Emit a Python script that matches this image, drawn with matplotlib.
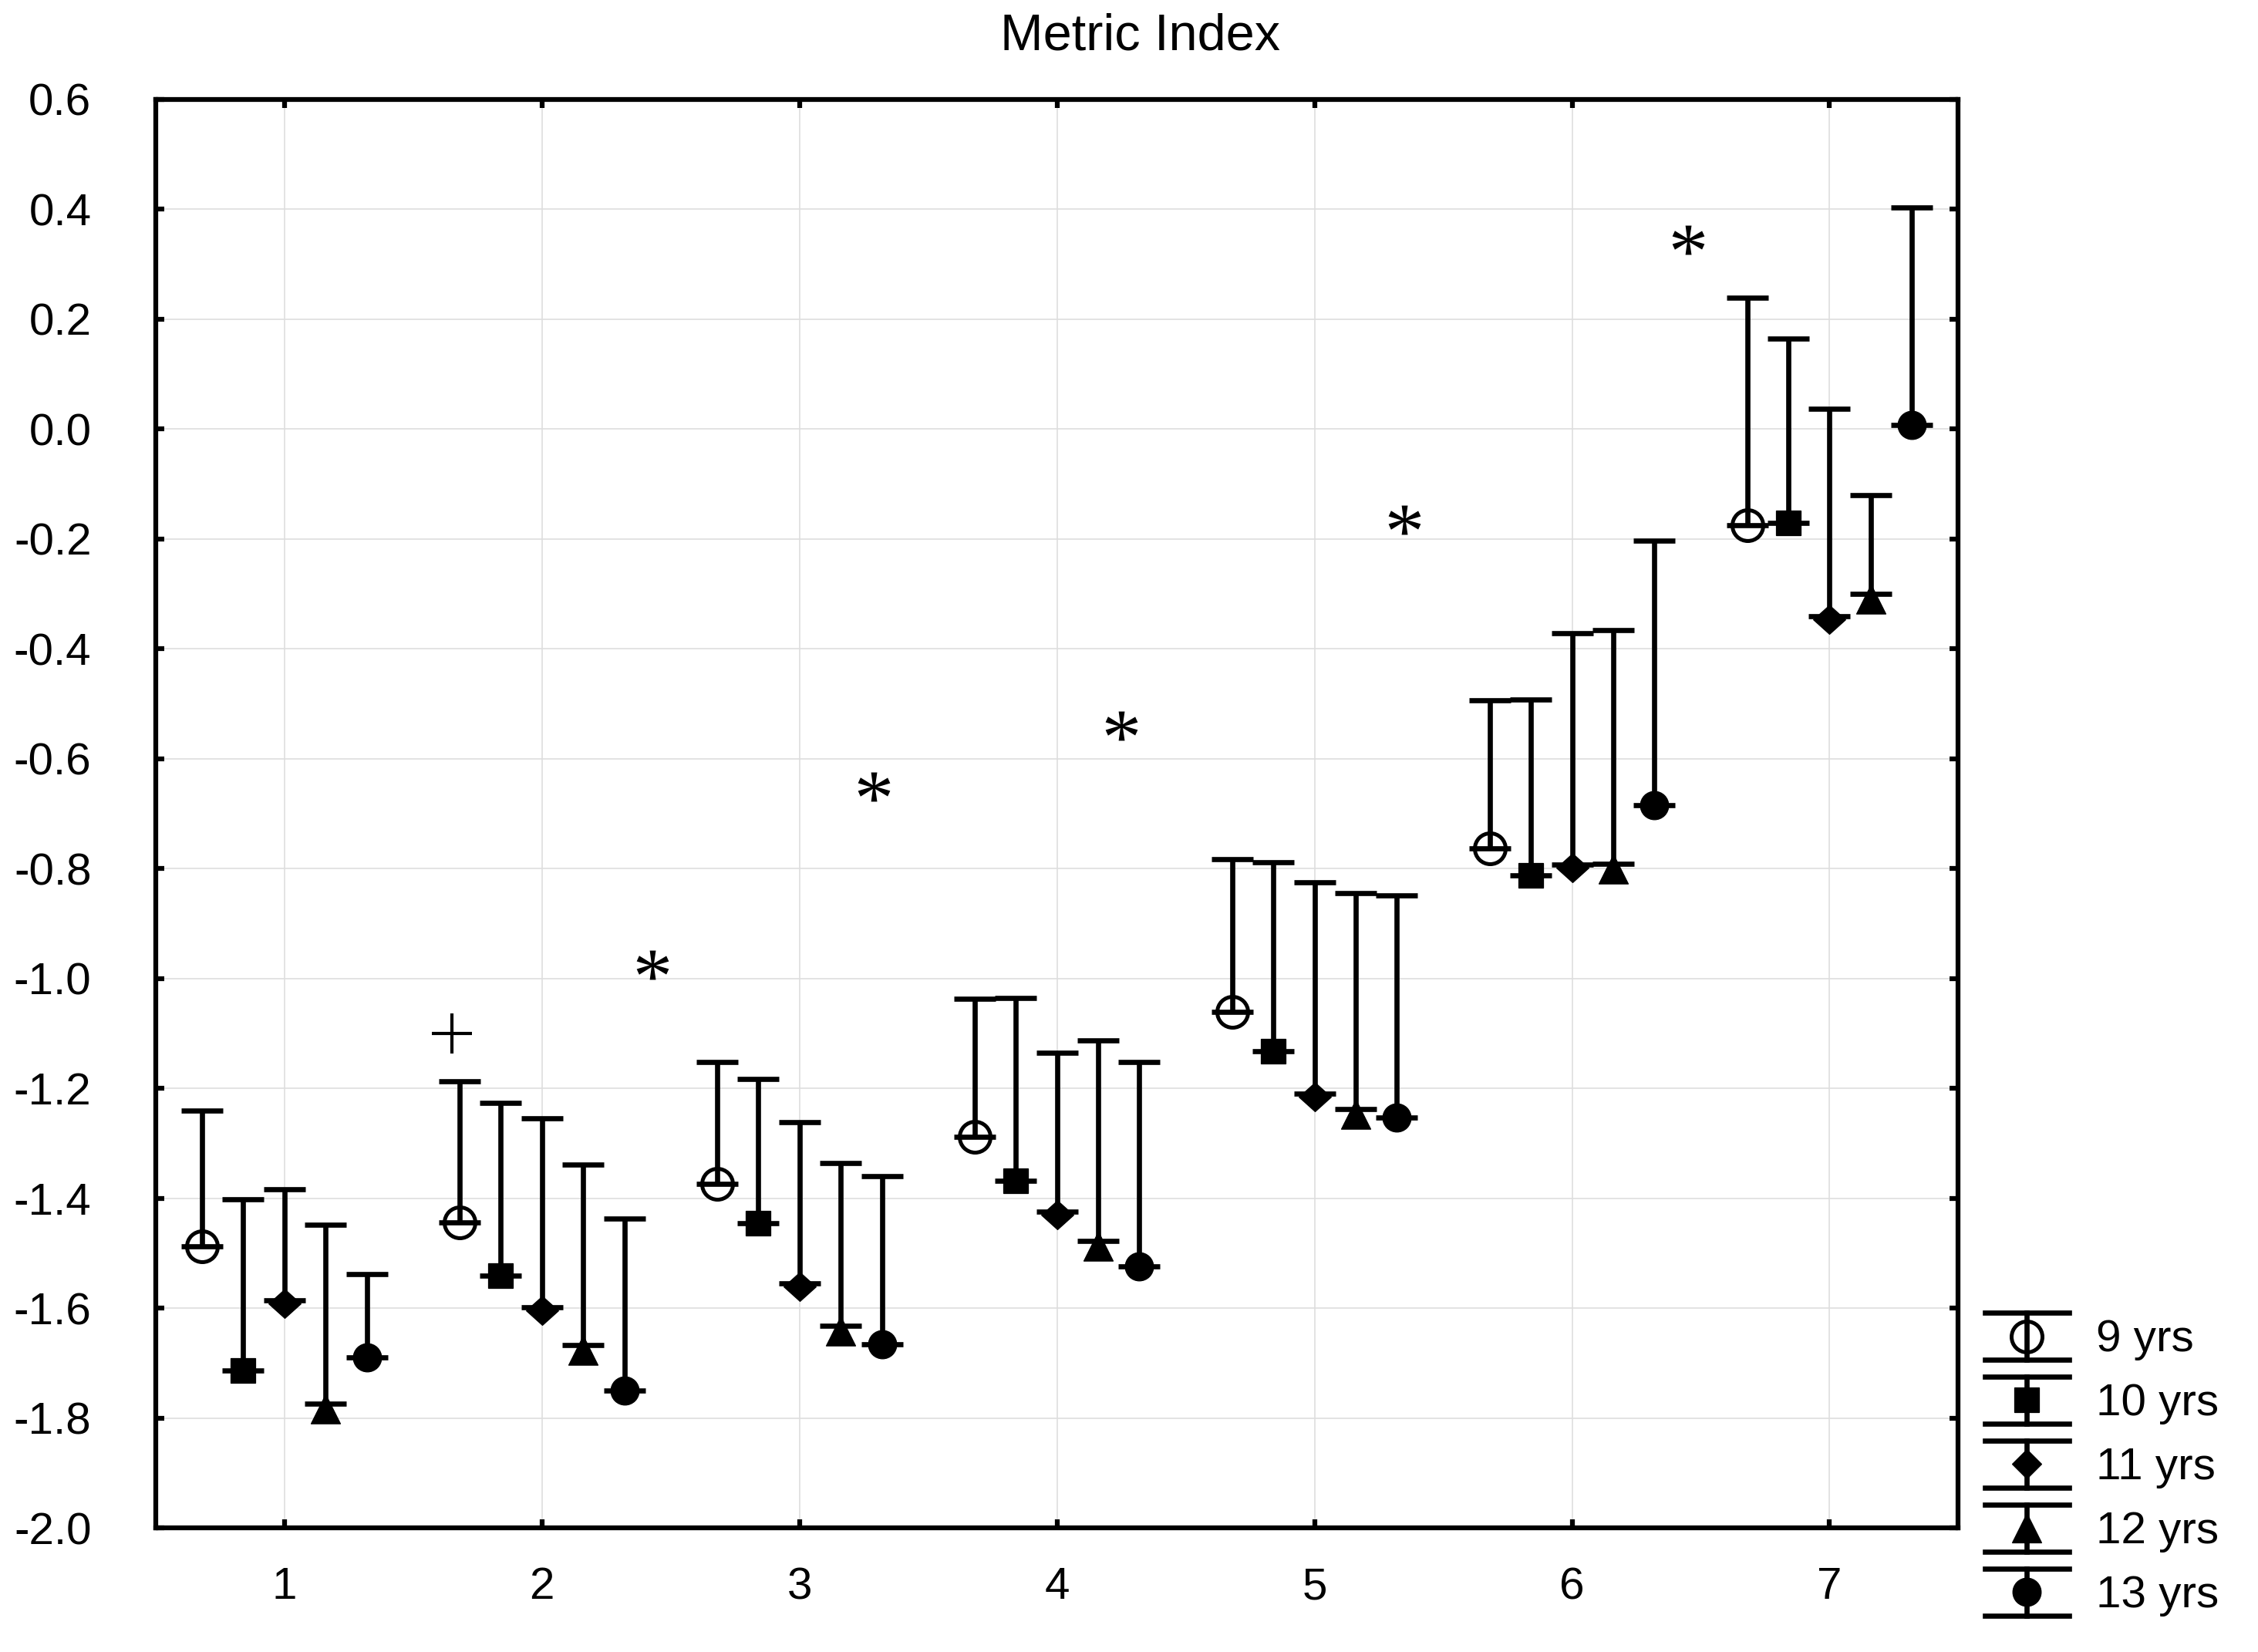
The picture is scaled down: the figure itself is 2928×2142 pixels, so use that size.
import numpy as np
import matplotlib
matplotlib.use("Agg")
import matplotlib.pyplot as plt
from matplotlib.lines import Line2D
from matplotlib.legend_handler import HandlerBase
from matplotlib.path import Path
from matplotlib.textpath import TextPath
from matplotlib.font_manager import FontProperties
from matplotlib.ticker import MultipleLocator, FormatStrFormatter

plt.rcParams["font.family"] = ["Liberation Sans", "DejaVu Sans"]
plt.rcParams["axes.unicode_minus"] = False

# -----------------------------------------------------------
# data (mean and upper bar end per group)
# -----------------------------------------------------------
groups = [1, 2, 3, 4, 5, 6, 7]
labels = ["9 yrs", "10 yrs", "11 yrs", "12 yrs", "13 yrs"]

mean_9 = [-1.487, -1.443, -1.373, -1.288, -1.061, -0.763, -0.175]
upper_9 = [-1.240, -1.187, -1.152, -1.036, -0.782, -0.493, 0.239]
mean_10 = [-1.713, -1.540, -1.445, -1.368, -1.132, -0.812, -0.171]
upper_10 = [-1.402, -1.226, -1.183, -1.035, -0.788, -0.492, 0.165]
mean_11 = [-1.585, -1.598, -1.555, -1.424, -1.209, -0.793, -0.340]
upper_11 = [-1.384, -1.254, -1.261, -1.135, -0.825, -0.371, 0.037]
mean_12 = [-1.773, -1.667, -1.632, -1.477, -1.238, -0.791, -0.300]
upper_12 = [-1.448, -1.339, -1.335, -1.112, -0.845, -0.366, -0.120]
mean_13 = [-1.689, -1.750, -1.666, -1.524, -1.253, -0.685, 0.008]
upper_13 = [-1.538, -1.437, -1.360, -1.152, -0.848, -0.203, 0.403]

# significance marks
star_x = [2.43, 3.29, 4.25, 5.35, 6.45]
star_y = [-0.975, -0.65, -0.54, -0.165, 0.345]
plus_x = [1.65]
plus_y = [-1.10]

means = [mean_9, mean_10, mean_11, mean_12, mean_13]
uppers = [upper_9, upper_10, upper_11, upper_12, upper_13]
offsets = [-0.32, -0.16, 0.0, 0.16, 0.32]


# -----------------------------------------------------------
# marker shapes
# -----------------------------------------------------------
def poly_marker(verts, dy):
    v = np.array(verts + [verts[0]], dtype=float)
    v[:, 1] += dy
    codes = [Path.MOVETO] + [Path.LINETO] * (len(verts) - 1) + [Path.CLOSEPOLY]
    return Path(v, codes)


tri_mk = poly_marker([(0, 1), (-1, -1), (1, -1)], -0.35)
dia_mk = poly_marker([(0, 0.9), (1, 0), (0, -0.9), (-1, 0)], -0.2)

# asterisk glyph centred on its own ink (closepoly points ignored)
tp = TextPath((0, 0), "*", size=1, prop=FontProperties(family="Liberation Serif"))
tv = tp.vertices.copy()
real = tp.codes != Path.CLOSEPOLY
tv -= (tv[real].min(axis=0) + tv[real].max(axis=0)) / 2
tv[~real] = 0
star_mk = Path(tv, tp.codes)

styles = [
    dict(marker="o", ms=9.6, mfc="none", mec="k", mew=1.2),
    dict(marker="s", ms=7.7, mfc="k", mec="k", mew=0.3),
    dict(marker=dia_mk, ms=11, mfc="k", mec="k", mew=0.3),
    dict(marker=tri_mk, ms=12.3, mfc="k", mec="k", mew=0.3),
    dict(marker="o", ms=8.8, mfc="k", mec="k", mew=0.3),
]
legend_styles = [
    dict(marker="o", ms=9.6, mfc="none", mec="k", mew=1.2),
    dict(marker="s", ms=7.7, mfc="k", mec="k", mew=0.3),
    dict(marker="D", ms=6.5, mfc="k", mec="k", mew=0.3),
    dict(marker="^", ms=9.0, mfc="k", mec="k", mew=0.3),
    dict(marker="o", ms=8.8, mfc="k", mec="k", mew=0.3),
]


class CapHandler(HandlerBase):
    # vertical bar with a cap at both ends and the marker in the middle
    def create_artists(self, legend, orig_handle, xdescent, ydescent,
                       width, height, fontsize, trans):
        x0, x1 = -xdescent, -xdescent + width
        y0, y1 = -ydescent, -ydescent + height
        cx, cy = (x0 + x1) / 2, (y0 + y1) / 2
        arts = [
            Line2D([cx, cx], [y0, y1], color="k", lw=1.6),
            Line2D([x0, x1], [y1, y1], color="k", lw=1.6),
            Line2D([x0, x1], [y0, y0], color="k", lw=1.6),
            Line2D([cx], [cy], ls="none",
                   marker=orig_handle.get_marker(),
                   ms=orig_handle.get_markersize(),
                   mfc=orig_handle.get_markerfacecolor(),
                   mec=orig_handle.get_markeredgecolor(),
                   mew=orig_handle.get_markeredgewidth()),
        ]
        for a in arts:
            a.set_transform(trans)
        return arts


# -----------------------------------------------------------
# figure
# -----------------------------------------------------------
fig = plt.figure(figsize=(9.76, 7.14), dpi=300)
ax = fig.add_axes([0.0689, 0.0750, 0.8673 - 0.0689, 0.9398 - 0.0750])

x = np.array(groups, dtype=float)
for i in range(5):
    m = np.array(means[i])
    up = np.array(uppers[i])
    ax.errorbar(x + offsets[i], m, yerr=[np.zeros_like(m), up - m], fmt="none",
                ecolor="k", elinewidth=1.6, capsize=6.5, capthick=1.6, zorder=3)
    ax.plot(x + offsets[i], m, ls="none", zorder=4, **styles[i])

ax.plot(star_x, star_y, ls="none", marker=star_mk, ms=10, color="k", mew=0, zorder=4)
ax.plot(plus_x, plus_y, ls="none", marker="+", ms=12.5, mew=1.0, color="k", zorder=4)

ax.set_xlim(0.5, 7.5)
ax.set_ylim(-2.0, 0.6)
ax.set_xticks(groups)
ax.yaxis.set_major_locator(MultipleLocator(0.2))
ax.yaxis.set_major_formatter(FormatStrFormatter("%.1f"))
ax.grid(True, color="#dedede", lw=0.4)
ax.set_axisbelow(True)
for s in ax.spines.values():
    s.set_linewidth(1.5)
ax.tick_params(axis="both", direction="in", length=2.6, width=1.5,
               top=True, right=True, labelsize=14)
ax.tick_params(axis="y", pad=20)
ax.tick_params(axis="x", pad=12)

fig.text(0.505, 0.978, "Metric Index", ha="center", va="center", fontsize=16)

proxies = [Line2D([], [], ls="none", **st) for st in legend_styles]
fig.legend(proxies, labels, handler_map={Line2D: CapHandler()},
           loc="lower left", bbox_to_anchor=(0.879, 0.0215), frameon=False,
           fontsize=14, handlelength=1.87, handleheight=1.22,
           labelspacing=0.36, handletextpad=0.6, borderpad=0, borderaxespad=0)

fig.savefig("out.png", dpi=300)
